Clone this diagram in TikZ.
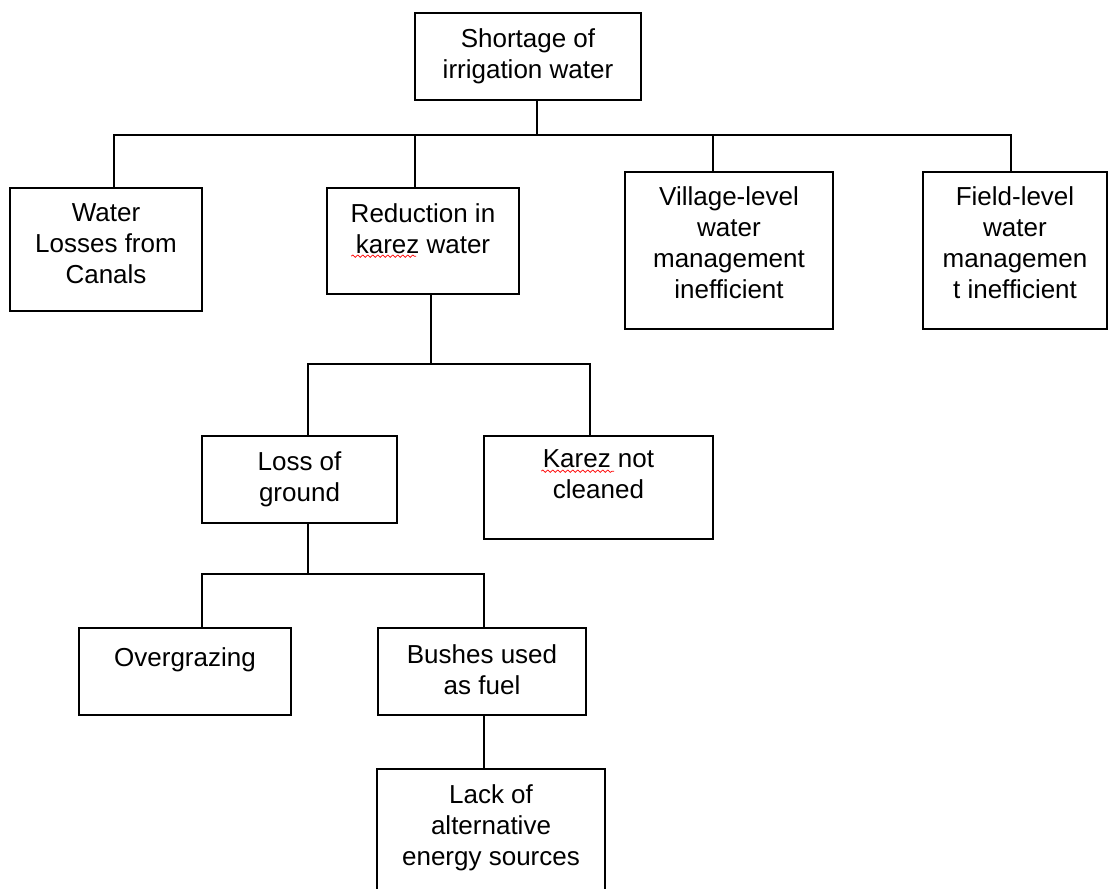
\documentclass[tikz,border=0pt]{standalone}
\usepackage{fontspec}
\setmainfont{Liberation Sans}
\usetikzlibrary{calc,decorations.pathmorphing}
\begin{document}
\begin{tikzpicture}[x=1pt,y=-1pt,
  box/.style 2 args={draw=black, line width=1.6pt, inner sep=0pt,
    minimum width=#1pt, minimum height=#2pt},
  txt/.style={inner sep=0pt, align=center, anchor=north, text=black,
    font={\fontsize{26}{31}\selectfont}, execute at begin node=\strut},
  link/.style={draw=black, line width=1.6pt},
  spell/.style={draw=red, line width=0.7pt, decorate,
    decoration={snake, amplitude=1.2pt, segment length=5pt}}]

% page and clipping (the last box runs off the bottom)
\fill[white] (0,0) rectangle (1109,889);
\clip (0,0) rectangle (1109,889);

% boxes
\node[box={226}{87}]  (top)  at (528,56.5)   {};
\node[box={192}{123}] (wl)   at (106,249.5)  {};
\node[box={192}{106}] (red)  at (423,241)    {};
\node[box={208}{157}] (vil)  at (729,250.5)  {};
\node[box={184}{157}] (fld)  at (1015,250.5) {};
\node[box={195}{87}]  (loss) at (299.5,479.5){};
\node[box={229}{103}] (kar)  at (598.5,487.5){};
\node[box={212}{87}]  (ovg)  at (185,671.5)  {};
\node[box={208}{87}]  (bsh)  at (482,671.5)  {};
\node[box={228}{151}] (lack) at (491,844.5)  {};

% box texts
\node[txt] (ttop)  at ([yshift=-16pt]top.north)  {Shortage of\\irrigation water};
\node[txt] (twl)   at ([yshift=-16pt]wl.north)   {Water\\Losses from\\Canals};
\node[txt] (tred)  at ([yshift=-16pt]red.north)  {Reduction in\\karez water};
\node[txt] (tvil)  at ([yshift=-15pt]vil.north)  {Village-level\\water\\management\\inefficient};
\node[txt] (tfld)  at ([yshift=-15pt]fld.north)  {Field-level\\water\\managemen\\t inefficient};
\node[txt] (tloss) at ([yshift=-16pt]loss.north) {Loss of\\ground};
\node[txt] (tkar)  at ([yshift=-14pt]kar.north)  {Karez not\\cleaned};
\node[txt] (tovg)  at ([yshift=-17pt]ovg.north)  {Overgrazing};
\node[txt] (tbsh)  at ([yshift=-17pt]bsh.north)  {Bushes used\\as fuel};
\node[txt] (tlack) at ([yshift=-16pt]lack.north) {Lack of\\alternative\\energy sources};

% spell-check marks under "karez"
\draw[spell] ([xshift=25pt,yshift=-69pt]red.north west) -- ([xshift=90pt,yshift=-69pt]red.north west);
\draw[spell] ([xshift=58pt,yshift=-36pt]kar.north west) -- ([xshift=131pt,yshift=-36pt]kar.north west);

% connector end points
\coordinate (topout) at ([xshift=9pt]top.south);
\coordinate (wlin)   at ([xshift=8pt]wl.north);
\coordinate (redin)  at ([xshift=-8pt]red.north);
\coordinate (vilin)  at ([xshift=-16pt]vil.north);
\coordinate (fldin)  at ([xshift=-4pt]fld.north);
\coordinate (redout) at ([xshift=8pt]red.south);
\coordinate (lossin) at ([xshift=8.5pt]loss.north);
\coordinate (karin)  at ([xshift=-8.5pt]kar.north);
\coordinate (lossout) at ([xshift=8.5pt]loss.south);
\coordinate (ovgin)  at ([xshift=17pt]ovg.north);
\coordinate (bshin)  at ([xshift=2pt]bsh.north);
\coordinate (bshout) at ([xshift=2pt]bsh.south);
\coordinate (lackin) at (bshout |- lack.north);

% buses
\coordinate (bus1) at (topout |- 0,135);
\coordinate (bus2) at (redout |- 0,364);
\coordinate (bus3) at (lossout |- 0,574);

% level 1
\draw[link] (topout) -- (bus1);
\draw[link] (wlin) |- (fldin |- bus1) -- (fldin);
\draw[link] (redin) -- (redin |- bus1);
\draw[link] (vilin) -- (vilin |- bus1);

% level 2
\draw[link] (redout) -- (bus2);
\draw[link] (lossin) |- (karin |- bus2) -- (karin);

% level 3
\draw[link] (lossout) -- (bus3);
\draw[link] (ovgin) |- (bshin |- bus3) -- (bshin);

% level 4
\draw[link] (bshout) -- (lackin);
\end{tikzpicture}
\end{document}
